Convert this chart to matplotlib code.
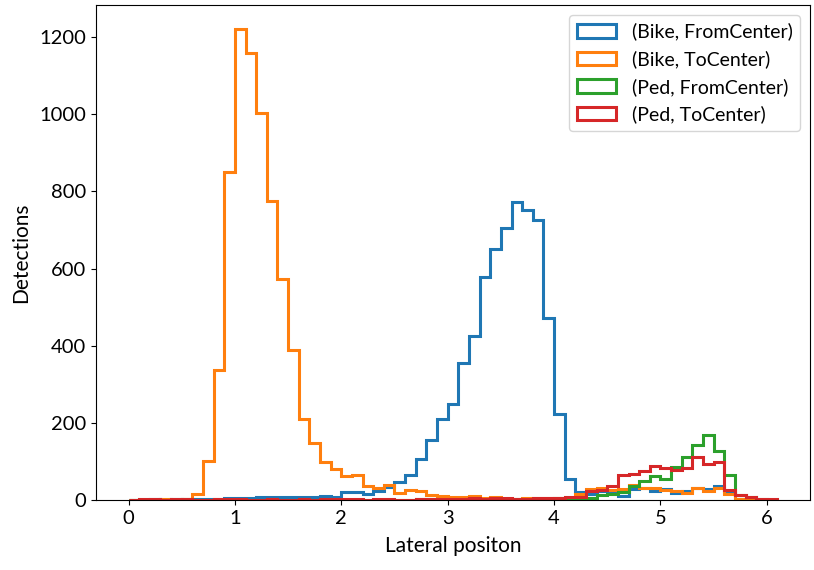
import numpy as np
import matplotlib.pyplot as plt

plt.rcParams['font.family'] = ['Lato', 'DejaVu Sans']

# bin edges: 0.0 .. 6.1 in steps of 0.1
bin_edges = np.round(np.arange(0, 6.11, 0.1), 2)
bin_centers = (bin_edges[:-1] + bin_edges[1:]) / 2

labels = ['(Bike, FromCenter)', '(Bike, ToCenter)', '(Ped, FromCenter)', '(Ped, ToCenter)']

bike_from = [1, 1, 2, 1, 2, 1, 2, 2, 3, 4, 4, 4, 7, 7, 7, 7, 7, 7, 10, 7,
             20, 20, 14, 24, 34, 47, 65, 106, 155, 211, 248, 355, 425, 578, 650, 704, 772, 751, 725, 471,
             222, 54, 20, 15, 23, 23, 9, 28, 30, 23, 28, 17, 23, 30, 28, 36, 22, 3, 1, 1,
             1]
bike_to = [1, 0, 1, 2, 1, 3, 16, 102, 337, 851, 1222, 1160, 1003, 775, 572, 389, 210, 148, 97, 79,
           61, 65, 36, 31, 39, 18, 26, 24, 13, 10, 8, 8, 9, 4, 7, 2, 2, 4, 4, 4,
           4, 5, 16, 28, 30, 26, 28, 39, 30, 30, 26, 22, 17, 30, 24, 30, 16, 3, 1, 1,
           0]
ped_from = [0, 0, 0, 1, 1, 2, 1, 0, 1, 0, 1, 0, 1, 1, 0, 1, 1, 0, 1, 1,
            1, 0, 1, 1, 1, 1, 1, 2, 2, 1, 1, 1, 1, 1, 1, 1, 2, 1, 2, 2,
            6, 3, 3, 5, 13, 14, 20, 36, 48, 63, 55, 84, 111, 142, 168, 126, 65, 12, 8, 3,
            1]
ped_to = [1, 2, 3, 1, 3, 2, 1, 1, 3, 3, 2, 1, 1, 2, 1, 1, 2, 1, 2, 2,
          2, 2, 1, 2, 2, 1, 1, 2, 2, 2, 2, 3, 4, 3, 4, 4, 3, 3, 4, 5,
          5, 8, 7, 24, 26, 37, 65, 66, 76, 89, 82, 78, 82, 111, 92, 97, 26, 13, 7, 3,
          2]

fig = plt.figure(figsize=(8.14, 5.70), dpi=100)
ax = fig.add_axes([0.118, 0.123, 0.877, 0.868])

for counts, label in zip([bike_from, bike_to, ped_from, ped_to], labels):
    ax.hist(bin_centers, bins=bin_edges, weights=counts,
            histtype='step', linewidth=2.2, label=label)

ax.set_xlabel('Lateral positon', fontsize=15, labelpad=7)
ax.set_ylabel('Detections', fontsize=15, labelpad=6)
ax.tick_params(labelsize=14.5)
ax.legend(fontsize=14, loc='upper right')

plt.savefig('out.png', dpi=100)
